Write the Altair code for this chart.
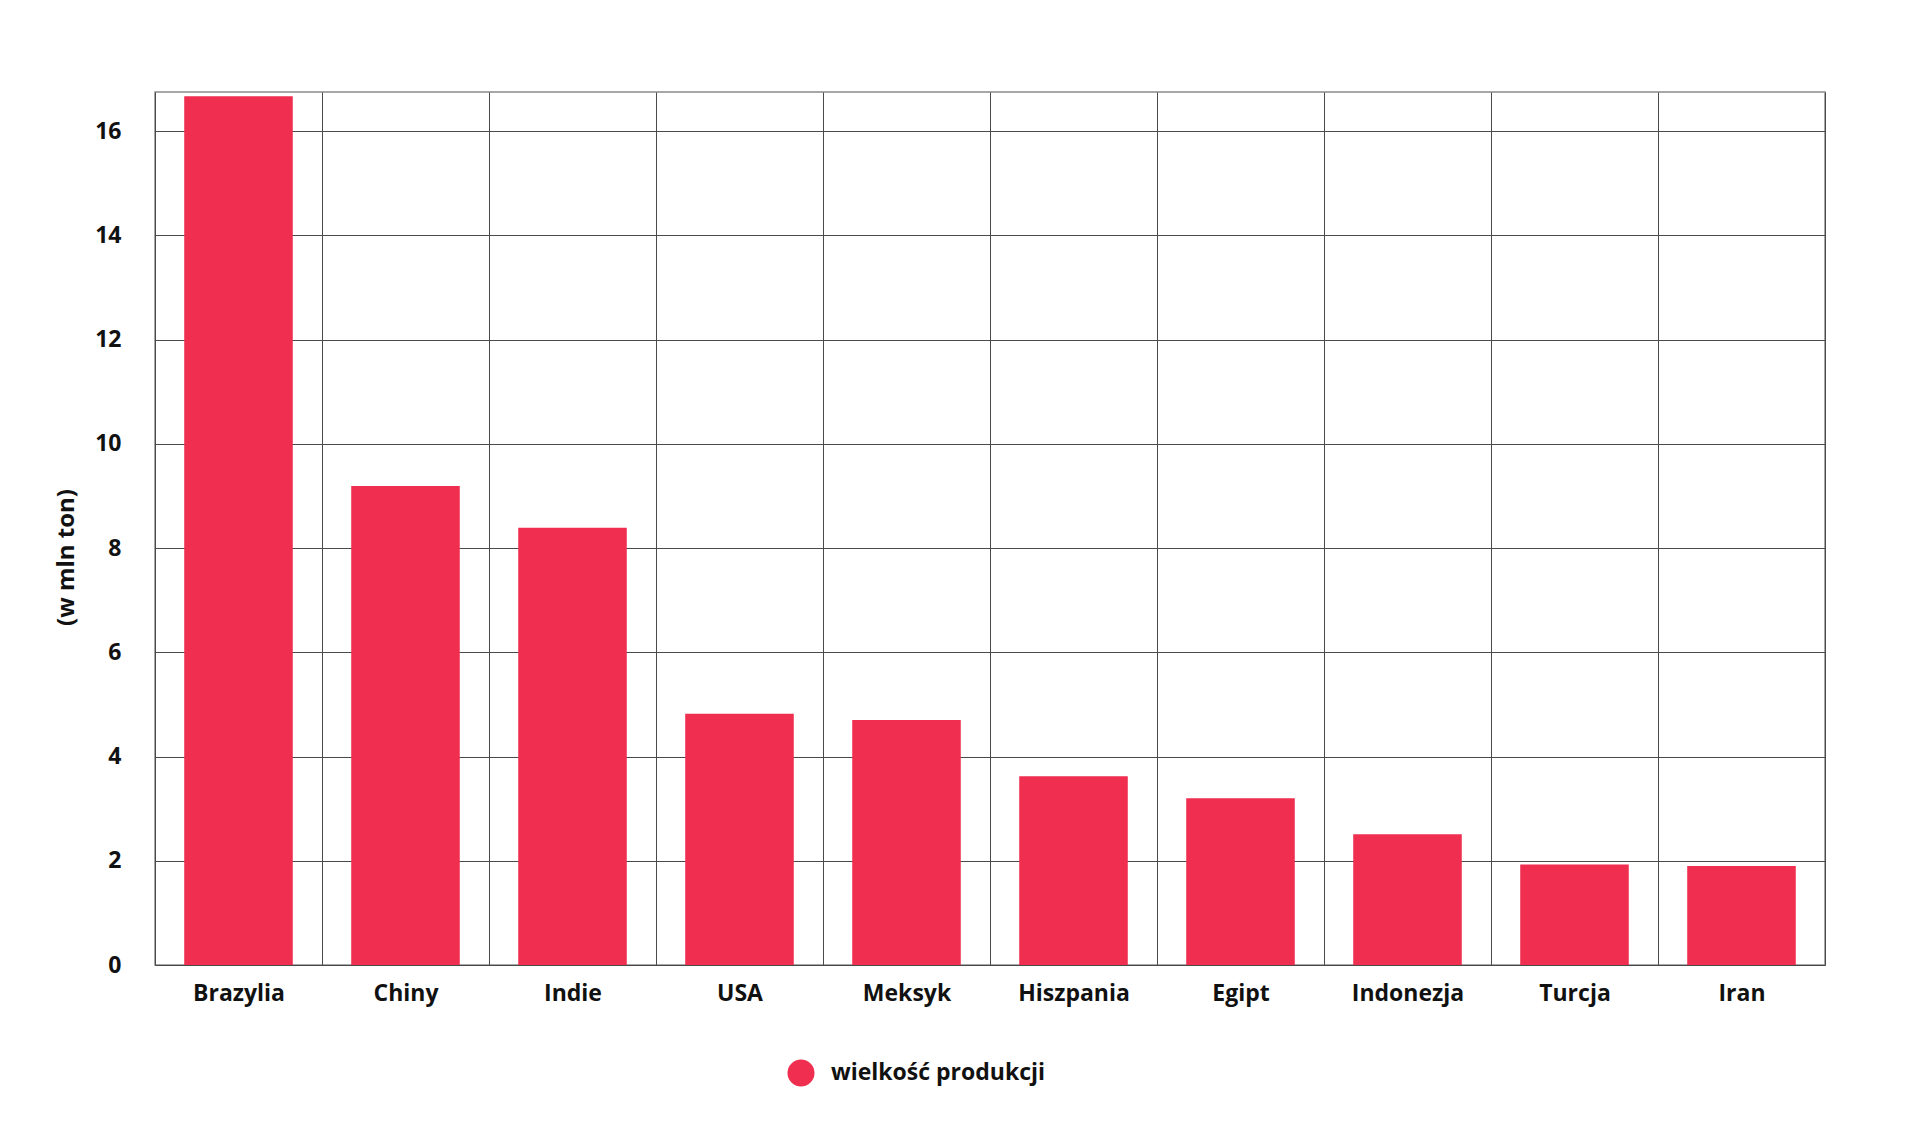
import altair as alt
import pandas as pd

countries = ["Brazylia", "Chiny", "Indie", "USA", "Meksyk", "Hiszpania", "Egipt", "Indonezja", "Turcja", "Iran"]
values = [16.67, 9.19, 8.39, 4.82, 4.70, 3.62, 3.20, 2.51, 1.93, 1.90]
series_name = "wielkość produkcji"
y_ticks = [0, 2, 4, 6, 8, 10, 12, 14, 16]

df = pd.DataFrame({"kraj": countries, "wartosc": values, "seria": [series_name] * len(countries)})

FONT = "Open Sans"
RED = "#EF2E50"
TXT = "#111111"

chart = alt.Chart(df).mark_bar(color=RED, width={"band": 0.65}).encode(
    x=alt.X(
        "kraj:N",
        sort=countries,
        title=None,
        scale=alt.Scale(paddingInner=0, paddingOuter=0),
        axis=alt.Axis(
            labelAngle=0,
            labelFont=FONT,
            labelFontWeight="bold",
            labelFontSize=23,
            labelColor=TXT,
            labelPadding=17,
            ticks=False,
            domain=False,
            grid=True,
            tickBand="extent",
            gridColor="#4a4a4a",
            gridWidth=1,
            gridOpacity=1,
        ),
    ),
    y=alt.Y(
        "wartosc:Q",
        scale=alt.Scale(domain=[0, 16.75], nice=False),
        axis=alt.Axis(
            values=y_ticks,
            title="(w mln ton)",
            titleFont=FONT,
            titleFontWeight="bold",
            titleFontSize=24,
            titleColor=TXT,
            titleX=-89,
            titleY=465,
            titleBaseline="middle",
            labelFont=FONT,
            labelFontWeight="bold",
            labelFontSize=23,
            labelColor=TXT,
            labelPadding=34,
            ticks=False,
            domain=False,
            grid=True,
            gridColor="#4a4a4a",
            gridWidth=1,
            gridOpacity=1,
        ),
    ),
    color=alt.Color(
        "seria:N",
        scale=alt.Scale(domain=[series_name], range=[RED]),
        legend=alt.Legend(
            title=None,
            orient="none",
            legendX=632,
            legendY=967,
            symbolType="circle",
            symbolSize=730,
            symbolStrokeWidth=0,
            symbolOpacity=1,
            labelFont=FONT,
            labelFontWeight="bold",
            labelFontSize=23,
            labelColor=TXT,
            labelOffset=16,
            labelLimit=0,
            padding=0,
        ),
    ),
).properties(
    width=1670,
    height=873,
    autosize=alt.AutoSizeParams(type="none"),
    padding={"left": 147, "top": 84, "right": 80, "bottom": 160},
    background="white",
).configure_view(
    stroke="#8a8a8a",
    strokeWidth=1.5,
)

chart.save("out.html", embed_options={"renderer": "svg", "actions": False})
